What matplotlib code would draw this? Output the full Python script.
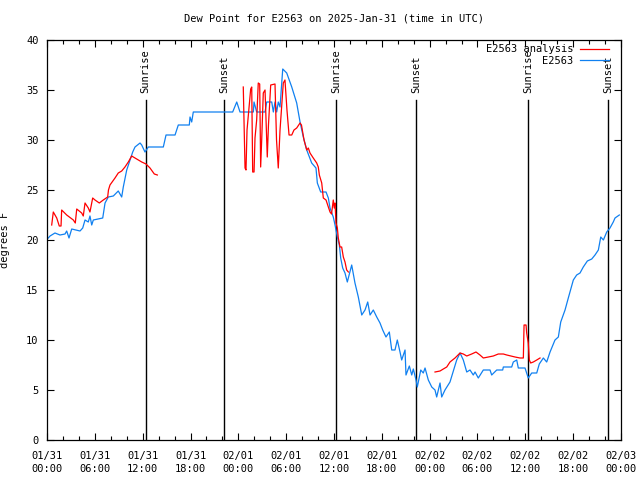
#!/usr/bin/env python3
# -*- coding: utf-8 -*-
"""Dew point chart for E2563 (gnuplot look-alike)."""
import numpy as np
import matplotlib
matplotlib.use("Agg")
import matplotlib.pyplot as plt
from matplotlib.ticker import MultipleLocator

TITLE = "Dew Point for E2563 on 2025-Jan-31 (time in UTC)"
YLABEL = "degrees F"

# hours since 01/31 00:00 UTC
obs_hours = [
    0.16, 0.38, 1.0, 1.63, 2.26, 2.47, 2.76, 3.1, 4.14, 4.48, 4.77, 5.18, 5.39,
    5.61, 5.81, 6.99, 7.28, 7.69, 8.32, 8.94, 9.37, 9.57, 10.0, 10.41, 10.75,
    11.04, 11.67, 11.88, 12.29, 12.71, 14.59, 14.93, 16.06, 16.47, 17.85, 17.94,
    18.15, 18.35, 23.29, 23.8, 24.21, 25.88, 25.97, 26.3, 27.35, 27.56, 28.19,
    28.39, 28.6, 28.81, 29.01, 29.23, 29.44, 29.57, 30.07, 30.7, 31.32, 31.74,
    32.15, 32.58, 33.2, 33.74, 33.91, 34.33, 35.0, 35.29, 35.5, 35.91, 36.13,
    36.42, 36.67, 36.84, 37.09, 37.38, 37.67, 38.22, 38.63, 39.05, 39.48, 39.89,
    40.23, 40.52, 40.93, 41.36, 41.77, 42.11, 42.52, 42.94, 43.24, 43.65, 43.94,
    44.28, 44.49, 44.91, 45.03, 45.45, 45.75, 45.95, 46.29, 46.45, 46.88, 47.2,
    47.42, 47.83, 48.26, 48.67, 48.88, 49.3, 49.51, 49.92, 50.55, 50.89, 51.39,
    51.81, 52.22, 52.65, 53.06, 53.47, 53.69, 54.1, 54.73, 55.57, 55.78, 56.41,
    57.16, 57.24, 58.29, 58.49, 58.92, 59.12, 59.96, 60.37, 60.8, 61.43, 61.75,
    62.26, 62.68, 63.1, 63.72, 64.14, 64.44, 64.98, 65.39, 66.02, 66.44, 66.86,
    67.27, 67.78, 68.33, 68.74, 69.16, 69.46, 69.79, 70.21, 70.62, 71.03, 71.25,
    71.79,
]
obs_dewpt = [
    20.2, 20.4, 20.7, 20.5, 20.6, 20.9, 20.2, 21.1, 20.9, 21.2, 22.0, 21.8, 22.4,
    21.5, 22.0, 22.2, 23.7, 24.3, 24.4, 24.9, 24.3, 25.3, 27.0, 28.0, 28.8,
    29.3, 29.7, 29.5, 28.8, 29.3, 29.3, 30.5, 30.5, 31.5, 31.5, 32.3,
    31.8, 32.8, 32.8, 33.8, 32.8, 32.8, 33.8, 32.8, 32.8, 33.8, 33.8,
    32.8, 33.8, 32.8, 33.8, 33.3, 35.7, 37.1, 36.7, 35.3, 33.7, 31.8,
    30.3, 29.0, 27.7, 27.2, 25.7, 24.8, 24.8, 24.2, 23.2, 22.3, 21.5,
    20.3, 19.5, 18.2, 17.2, 16.7, 15.8, 17.5, 15.7, 14.3, 12.5, 13.0,
    13.8, 12.5, 13.0, 12.3, 11.7, 11.0, 10.3, 10.8, 9.0, 9.0, 10.0,
    8.8, 8.0, 9.0, 6.5, 7.4, 6.5, 7.1, 6.0, 5.3, 7.0, 6.7,
    7.2, 6.0, 5.3, 5.0, 4.3, 5.7, 4.3, 5.0, 5.8, 6.7, 8.0,
    8.7, 8.0, 6.8, 7.0, 6.5, 6.8, 6.2, 7.0, 7.0, 6.5, 7.0,
    7.0, 7.3, 7.3, 7.8, 8.0, 7.2, 7.2, 6.2, 6.7, 6.7, 7.6,
    8.2, 7.8, 8.8, 10.0, 10.3, 11.8, 13.0, 14.2, 16.0, 16.5, 16.7,
    17.3, 17.9, 18.1, 18.5, 19.0, 20.3, 20.0, 20.8, 21.2, 21.8, 22.2,
    22.5,
]

# analysis series, NaN marks a gap in the record
ana_hours = [
    0.59, 0.79, 1.22, 1.54, 1.76, 1.84, 2.47, 3.3, 3.55, 3.73, 4.35, 4.55, 4.77,
    5.18, 5.39, 5.73, 6.02, 6.56, 7.06, 7.61, 7.71, 7.9, 8.53, 8.94, 9.37, 9.78,
    10.2, 10.62, 11.25, 11.88, 12.42, 12.92, 13.46, 13.84,
    np.nan,
    24.62, 24.84, 24.96, 25.09, 25.55, 25.68, 25.8, 25.97, 26.09, 26.3, 26.5,
    26.68, 26.8, 26.93, 27.13, 27.35, 27.63, 27.78, 28.06, 28.6, 28.79, 29.01,
    29.23, 29.64, 29.85, 30.1, 30.36, 30.7, 30.98, 31.32, 31.74, 31.92, 32.24,
    32.58, 32.78, 32.99, 33.4, 33.83, 34.03, 34.16, 34.46, 34.66, 35.0, 35.29,
    35.5, 35.69, 35.91, 36.03, 36.13, 36.25, 36.42, 36.54, 36.75, 36.96, 37.17,
    37.38, 37.59, 37.8,
    np.nan,
    48.67, 49.3, 49.71, 50.14, 50.55, 51.18, 51.81, 52.22, 52.65, 53.27, 53.81,
    54.31, 54.73, 55.36, 55.98, 56.61, 57.24, 57.67, 58.71, 59.33, 59.75, 59.84,
    60.09, 60.17, 60.37, 60.5, 60.67, 61.0, 61.43, 61.84,
]
ana_dewpt = [
    21.5, 22.8, 22.2, 21.4, 21.4, 23.0, 22.5, 22.0, 21.7, 23.1, 22.7, 22.4, 23.7,
    23.2, 22.8, 24.2, 24.0, 23.7, 24.0, 24.3, 25.0, 25.5, 26.2, 26.7, 26.9, 27.3,
    27.8, 28.4, 28.1, 27.8, 27.6, 27.2, 26.6, 26.5,
    np.nan,
    35.3, 27.2, 27.0, 31.0, 35.1, 35.3, 26.8, 26.8, 30.2, 32.0, 35.7,
    35.6, 27.3, 30.0, 34.7, 35.0, 28.3, 31.5, 35.5, 35.6, 30.0, 27.2,
    31.0, 35.7, 36.0, 33.0, 30.5, 30.5, 31.0, 31.2, 31.7, 31.5, 30.0,
    29.0, 29.2, 28.7, 28.2, 27.7, 27.3, 26.5, 25.7, 24.2, 24.0, 23.3,
    22.8, 22.6, 24.0, 23.2, 23.7, 21.7, 21.2, 20.2, 19.3, 19.3, 18.3,
    17.8, 17.0, 16.8,
    np.nan,
    6.8, 6.9, 7.1, 7.3, 7.8, 8.2, 8.7, 8.6, 8.4, 8.6, 8.8,
    8.5, 8.2, 8.3, 8.4, 8.6, 8.6, 8.5, 8.3, 8.2, 8.2, 11.5,
    11.5, 10.7, 9.7, 8.0, 7.7, 7.8, 8.0, 8.2,
]

sun_hours = [12.38, 22.24, 36.29, 46.31, 60.37, 70.41]
sun_labels = ["Sunrise", "Sunset", "Sunrise", "Sunset", "Sunrise", "Sunset"]

xtick_hours = list(range(0, 73, 6))
xtick_labels = [
    "01/31\n00:00", "01/31\n06:00", "01/31\n12:00", "01/31\n18:00",
    "02/01\n00:00", "02/01\n06:00", "02/01\n12:00", "02/01\n18:00",
    "02/02\n00:00", "02/02\n06:00", "02/02\n12:00", "02/02\n18:00",
    "02/03\n00:00",
]

plt.rcParams["font.family"] = ["DejaVu Sans Mono"]
plt.rcParams["font.size"] = 7.5

fig = plt.figure(figsize=(6.4, 4.8), dpi=100)
ax = fig.add_axes([47 / 640, 40 / 480, 574 / 640, 400 / 480])

RED = "#ff0000"
BLUE = "#1080f0"

ax.plot(ana_hours, ana_dewpt, color=RED, lw=0.9, label="E2563 analysis", zorder=3)
ax.plot(obs_hours, obs_dewpt, color=BLUE, lw=0.9, label="E2563", zorder=2)

# sunrise / sunset markers
for h, lab in zip(sun_hours, sun_labels):
    ax.plot([h, h], [0, 34], color="black", lw=1.0, zorder=1)
    ax.text(h, 34.7, lab, rotation=90, ha="center", va="bottom", fontsize=7.5)

ax.set_xlim(0, 72)
ax.set_ylim(0, 40)
ax.set_xticks(xtick_hours)
ax.set_xticklabels(xtick_labels, linespacing=1.35)
ax.xaxis.set_minor_locator(MultipleLocator(2))
ax.yaxis.set_major_locator(MultipleLocator(5))
ax.tick_params(which="both", direction="in", top=True, right=True, width=0.8)
ax.tick_params(which="major", length=5)
ax.tick_params(which="minor", length=3)
ax.tick_params(axis="x", pad=8)
ax.tick_params(axis="y", pad=6)
for sp in ax.spines.values():
    sp.set_linewidth(0.9)

ax.set_title(TITLE, pad=13, fontsize=7.5)
ax.set_ylabel(YLABEL)
ax.yaxis.set_label_coords(-0.064, 0.5)

# gnuplot-style key: text right-aligned, sample line on the right
ax.legend(loc="upper right", bbox_to_anchor=(1 - 8 / 574, 1), frameon=False,
          markerfirst=False, handlelength=2.8, handletextpad=0.6,
          labelspacing=0.15, borderaxespad=0.2, borderpad=0.2, fontsize=7.5)

fig.savefig("out.png", dpi=100)
